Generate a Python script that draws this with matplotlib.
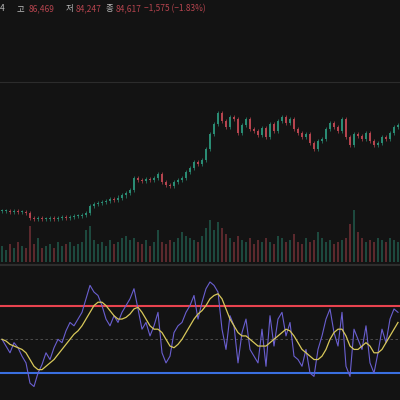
import numpy as np
import matplotlib.pyplot as plt

plt.rcParams['font.family'] = ['Noto Sans CJK KR', 'DejaVu Sans']

# closing prices (arbitrary units), open = previous close
close = [20, 20, 19, 20, 19, 19, 18,
         13, 12, 13, 12, 12, 13, 12, 13, 14, 13, 14, 15,
         15, 16, 18, 25, 27, 28,
         29, 30, 32, 31, 33, 35, 37, 40,
         52, 50, 49, 51, 50, 52, 56, 48,
         45, 44, 48, 50, 52, 58, 62, 68,
         66, 70, 80, 95, 105,
         116, 108, 102, 112, 110, 96, 104,
         110, 100, 98, 94, 101, 92, 105, 98,
         108, 112, 106, 110, 100, 96, 92, 95,
         86, 80, 88, 90, 100, 106, 102, 98,
         110, 92, 84, 95, 93, 90, 96, 88,
         84, 86, 92, 90, 96, 102, 104]
volume = [0.8, 0.6, 0.9, 0.7, 1.0, 0.8, 0.7, 1.8, 0.9, 1.2, 0.7, 0.8, 0.9, 0.7, 1.0, 0.8, 0.9, 1.0, 0.8,
          0.9, 1.0, 1.6, 1.8, 1.1, 0.9, 1.0, 0.8, 1.1, 0.9, 1.0, 1.2, 1.3, 1.1,
          1.2, 1.0, 0.9, 1.1, 0.8, 1.0, 1.6, 1.0, 0.9, 1.1, 1.0, 1.2, 1.5, 1.3, 1.2, 1.1,
          1.0, 1.3, 1.7, 2.1, 1.6, 2.0, 1.7, 1.4, 1.2, 1.0, 1.3, 1.1, 1.0, 1.2, 0.9,
          1.1, 1.0, 1.2, 1.0, 0.9, 1.3, 1.2, 1.0, 1.1, 1.4, 1.0, 0.9, 1.2, 1.0, 1.1,
          1.5, 1.2, 1.0, 1.1, 0.9, 1.0, 1.1, 1.2, 1.9, 2.6, 1.5, 1.2, 1.0, 1.1, 1.0,
          1.2, 1.1, 1.0, 1.2, 1.1, 1.0]
rsi = [50, 46, 42, 48, 45, 40, 36, 24, 22, 30, 35, 42, 38, 45, 50, 48, 55, 60, 58,
       62, 66, 74, 82, 78, 76, 70, 62, 58, 64, 60, 66, 70, 74,
       80, 68, 56, 60, 52, 58, 66, 42, 36, 40, 54, 58, 60, 66, 70, 76,
       62, 72, 80, 84, 82, 78, 56, 44, 64, 58, 36, 54,
       62, 44, 40, 36, 56, 34, 64, 46, 62, 66, 52, 60, 40, 38, 34, 44,
       30, 28, 44, 52, 62, 68, 54, 46, 66, 34, 28, 56, 50, 44, 58, 36,
       30, 42, 56, 48, 62, 68, 66]
rsi_ma = [50, 49, 47, 46, 45, 44, 42, 38, 34, 32, 32, 34, 36, 38, 41, 44, 47, 50, 53,
          55, 58, 62, 66, 70, 72, 72, 70, 67, 64, 62, 62, 63, 65,
          68, 69, 66, 62, 58, 56, 56, 54, 50, 46, 45, 47, 50, 54, 58, 62,
          65, 67, 70, 74, 76, 77, 74, 68, 62, 58, 54, 52,
          52, 50, 48, 46, 46, 46, 48, 50, 52, 54, 56, 55, 52, 48, 44, 42,
          40, 38, 38, 40, 44, 50, 54, 56, 56, 52, 46, 44, 44, 46, 48, 46,
          42, 42, 44, 48, 52, 56, 60]

bg = '#131313'
up, down = '#2a8c74', '#b5444e'
x = np.arange(len(close))
opn = [close[0]] + close[:-1]

fig = plt.figure(figsize=(4, 4), dpi=100, facecolor=bg)
ty = 0.978
for xp, s, c in [(0.0, '4', '#bbbbbb'), (0.042, '고', '#bbbbbb'), (0.072, '86,469', '#b5444e'),
                 (0.163, '저', '#bbbbbb'), (0.19, '84,247', '#b5444e'),
                 (0.265, '종', '#bbbbbb'), (0.29, '84,617', '#b5444e'),
                 (0.36, '−1,575 (−1.83%)', '#b5444e')]:
    fig.text(xp, ty, s, color=c, fontsize=6, va='center')
fig.add_artist(plt.Line2D([0, 1], [0.795, 0.795], color='#2c2c2c', lw=0.8))
fig.add_artist(plt.Line2D([0, 1], [0.337, 0.337], color='#2c2c2c', lw=1.5))

ax = fig.add_axes([0, 0.345, 1, 0.44], facecolor='none')
axv = fig.add_axes([0, 0.345, 1, 0.44], facecolor=bg, zorder=-1)
for i in x:
    c = up if close[i] >= opn[i] else down
    lo, hi = min(opn[i], close[i]), max(opn[i], close[i])
    ax.vlines(i, lo - 2, hi + 2, color=c, lw=0.5)
    ax.bar(i, max(hi - lo, 0.6), bottom=lo, width=0.45, color=c)
    axv.bar(i, volume[i], width=0.35, color=c, alpha=0.45)
ax.set_xlim(-0.5, len(close) - 0.5)
ax.set_ylim(-30, 142)
axv.set_xlim(-0.5, len(close) - 0.5)
axv.set_ylim(0, 8.8)
for a in (ax, axv):
    a.axis('off')

ar = fig.add_axes([0, 0, 1, 0.333], facecolor=bg)
ar.axhline(70, color='#e8434f', lw=1.5)
ar.axhline(30, color='#3a6fe0', lw=1.5)
ar.axhline(50, color='#555555', lw=0.6, ls=(0, (3, 3)))
ar.plot(x, rsi, color='#6a5fd0', lw=0.8)
ar.plot(x, rsi_ma, color='#d8c85a', lw=0.9)
ar.set_xlim(-0.5, len(close) - 0.5)
ar.set_ylim(14, 93)
ar.axis('off')

fig.savefig('out.png', dpi=100, facecolor=bg)
